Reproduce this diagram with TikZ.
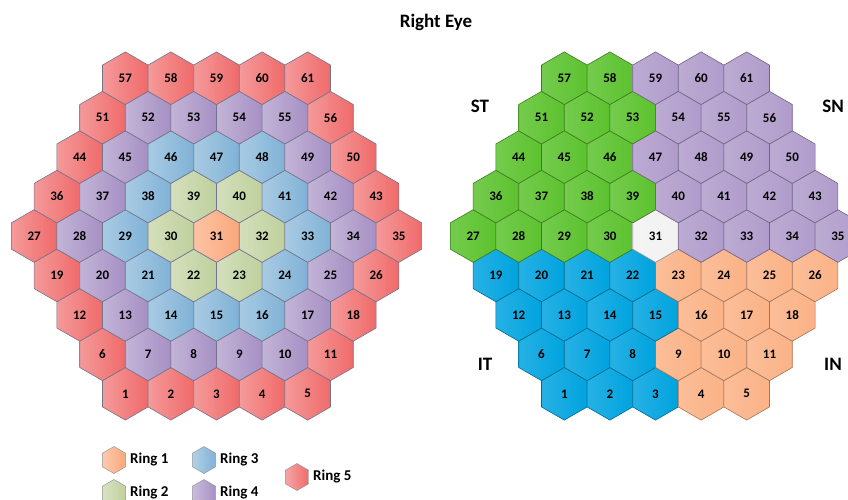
\documentclass[tikz,border=0pt]{standalone}
\usepackage{fontspec}
\setmainfont{Carlito}

\begin{document}
\begin{tikzpicture}[x=1pt, y=-1pt,
    num/.style={inner sep=0pt, font=\bfseries\fontsize{13}{13}\selectfont},
    ringhex/.style={left color=#1!68!white, right color=#1, draw=gray!90!blue, line width=0.6pt},
    zonehex/.style={left color=#1!85!white, right color=#1, draw=#1!65!black, line width=0.6pt},
    keyhex/.style={left color=#1!60!white, right color=#1, draw=gray!80, line width=0.5pt},
    keytext/.style={anchor=west, inner sep=0pt, font=\bfseries\fontsize{15}{15}\selectfont},
    sector/.style={font=\bfseries\fontsize{19}{19}\selectfont}]
    \def\hexW{45.6}
    \def\rowH{39.45}
    \def\hexR{26.3}
    \def\keyR{13.5}

    \definecolor{ringA}{HTML}{FBA77A}
    \definecolor{ringB}{HTML}{BFD09C}
    \definecolor{ringC}{HTML}{80B2D6}
    \definecolor{ringD}{HTML}{A690C4}
    \definecolor{ringE}{HTML}{F06A6A}
    \definecolor{zoneST}{HTML}{5CC22E}
    \definecolor{zoneSN}{HTML}{B09CCB}
    \definecolor{zoneIT}{HTML}{00A3DF}
    \definecolor{zoneIN}{HTML}{FBB286}
    \definecolor{zoneW}{HTML}{F2F2F2}

    \useasboundingbox (0,0) rectangle (848,500);

    % Title
    \node[font=\bfseries\fontsize{19}{19}\selectfont] (title) at (436,22) {Right Eye};

    % Left grid: rings by distance from the centre
    \foreach \r/\s/\n/\cols in {
        0/1/5/{E,E,E,E,E},
        1/6/6/{E,D,D,D,D,E},
        2/12/7/{E,D,C,C,C,D,E},
        3/19/8/{E,D,C,B,B,C,D,E},
        4/27/9/{E,D,C,B,A,B,C,D,E},
        5/36/8/{E,D,C,B,B,C,D,E},
        6/44/7/{E,D,C,C,C,D,E},
        7/51/6/{E,D,D,D,D,E},
        8/57/5/{E,E,E,E,E}}
      \foreach \c [count=\i from 0] in \cols {
        \pgfmathtruncatemacro\num{\s+\i}
        \pgfmathsetmacro\hx{216.5+(\i-(\n-1)/2)*\hexW}
        \pgfmathsetmacro\hy{236+(4-\r)*\rowH}
        \draw[ringhex=ring\c] (\hx,\hy) +(30:\hexR) -- +(90:\hexR) -- +(150:\hexR)
            -- +(210:\hexR) -- +(270:\hexR) -- +(330:\hexR) -- cycle;
        \node[num] (L\num) at (\hx,\hy) {\num};
      }

    % Right grid: quadrants
    \foreach \r/\s/\n/\cols in {
        0/1/5/{IT,IT,IT,IN,IN},
        1/6/6/{IT,IT,IT,IN,IN,IN},
        2/12/7/{IT,IT,IT,IT,IN,IN,IN},
        3/19/8/{IT,IT,IT,IT,IN,IN,IN,IN},
        4/27/9/{ST,ST,ST,ST,W,SN,SN,SN,SN},
        5/36/8/{ST,ST,ST,ST,SN,SN,SN,SN},
        6/44/7/{ST,ST,ST,SN,SN,SN,SN},
        7/51/6/{ST,ST,ST,SN,SN,SN},
        8/57/5/{ST,ST,SN,SN,SN}}
      \foreach \c [count=\i from 0] in \cols {
        \pgfmathtruncatemacro\num{\s+\i}
        \pgfmathsetmacro\hx{655.5+(\i-(\n-1)/2)*\hexW}
        \pgfmathsetmacro\hy{236+(4-\r)*\rowH}
        \draw[zonehex=zone\c] (\hx,\hy) +(30:\hexR) -- +(90:\hexR) -- +(150:\hexR)
            -- +(210:\hexR) -- +(270:\hexR) -- +(330:\hexR) -- cycle;
        \node[num] (R\num) at (\hx,\hy) {\num};
      }

    % Quadrant labels
    \node[sector] (ST) at (480,106) {ST};
    \node[sector] (SN) at (833,106) {SN};
    \node[sector] (IT) at (485,364) {IT};
    \node[sector] (IN) at (833,364) {IN};

    % Legend
    \foreach \k/\c/\kx/\ky in {1/A/114/460, 2/B/114/493, 3/C/204/460, 4/D/204/493, 5/E/297/477} {
        \coordinate (key\k) at (\kx,\ky);
        \draw[keyhex=ring\c] (key\k) +(30:\keyR) -- +(90:\keyR) -- +(150:\keyR)
            -- +(210:\keyR) -- +(270:\keyR) -- +(330:\keyR) -- cycle;
        \node[keytext] (lab\k) at ([xshift=16pt]key\k) {Ring \k};
    }

\end{tikzpicture}
\end{document}
